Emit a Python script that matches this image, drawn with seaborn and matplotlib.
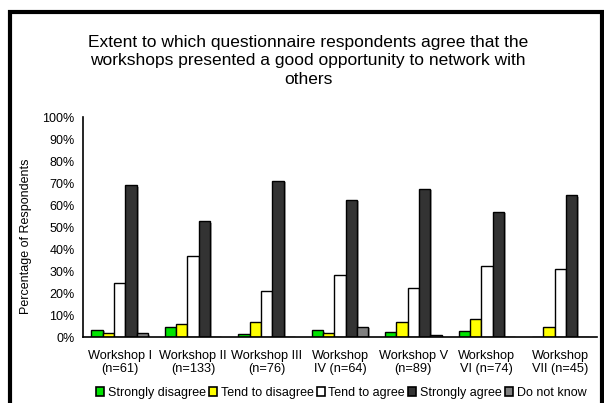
import pandas as pd
import numpy as np
import matplotlib
matplotlib.use("Agg")
import matplotlib.pyplot as plt
import seaborn as sns
from matplotlib.patches import Rectangle, Patch
import matplotlib.patheffects as pe

# Chart data
workshops = ["Workshop I\n(n=61)", "Workshop II\n(n=133)", "Workshop III\n(n=76)",
             "Workshop\nIV (n=64)", "Workshop V\n(n=89)", "Workshop\nVI (n=74)",
             "Workshop\nVII (n=45)"]
responses = ["Strongly disagree", "Tend to disagree", "Tend to agree",
             "Strongly agree", "Do not know"]
strongly_disagree = [3.3, 4.5, 1.3, 3.1, 2.2, 2.7, 0.0]
tend_to_disagree = [1.6, 6.0, 6.6, 1.6, 6.7, 8.1, 4.4]
tend_to_agree = [24.6, 36.8, 21.1, 28.1, 22.5, 32.4, 31.1]
strongly_agree = [68.9, 52.6, 71.1, 62.5, 67.4, 56.8, 64.4]
do_not_know = [1.6, 0.0, 0.0, 4.7, 1.1, 0.0, 0.0]
colors = ["#00E400", "#FFFF00", "#FFFFFF", "#333333", "#808080"]

series = [strongly_disagree, tend_to_disagree, tend_to_agree, strongly_agree, do_not_know]
rows = []
for resp, vals in zip(responses, series):
    for w, v in zip(workshops, vals):
        rows.append({"Workshop": w, "Response": resp, "Percent": v})
df = pd.DataFrame(rows)

sns.set_style("white")
plt.rcParams['font.family'] = ['Liberation Sans', 'DejaVu Sans']
plt.rcParams.update({"text.color": "black", "axes.labelcolor": "black",
                     "xtick.color": "black", "ytick.color": "black"})

fig = plt.figure(figsize=(6.04, 4.03), dpi=100)
ax = fig.add_axes([83 / 604, 1 - 337 / 403, (597 - 83) / 604, 220 / 403])

sns.barplot(data=df, x="Workshop", y="Percent", hue="Response", hue_order=responses,
            order=workshops, palette=colors, width=0.77, edgecolor="black",
            linewidth=1.0, saturation=1, ax=ax, legend=False)

# light drop shadow like the original spreadsheet chart
for bar in ax.patches:
    if bar.get_height() > 0:
        bar.set_path_effects([pe.SimplePatchShadow(offset=(1.5, -1), shadow_rgbFace="#999999",
                                                   alpha=0.8), pe.Normal()])

ax.set_ylim(0, 100)
ax.set_xlim(-0.5, len(workshops) - 0.5)
ax.set_yticks(np.arange(0, 101, 10))
ax.set_yticklabels([f"{t}%" for t in range(0, 101, 10)], fontsize=9)
ax.set_xticks(range(len(workshops)))
ax.set_xticklabels(workshops, fontsize=9.2, linespacing=1.2)
ax.set_xticks(np.arange(-0.5, len(workshops), 1), minor=True)
ax.tick_params(axis="x", which="major", length=0, pad=9)
ax.tick_params(axis="x", which="minor", length=4, width=1, direction="out", color="black")
ax.tick_params(axis="y", length=4, width=1, direction="out", color="black", pad=2)
ax.set_xlabel("")
ax.set_ylabel("Percentage of Respondents", fontsize=9)
ax.yaxis.set_label_coords(-0.099, 0.46)
for s in ["top", "right"]:
    ax.spines[s].set_visible(False)
for s in ["left", "bottom"]:
    ax.spines[s].set_color("black")
    ax.spines[s].set_linewidth(1.2)

fig.text(0.51, 1 - 61 / 403,
         "Extent to which questionnaire respondents agree that the\n"
         "workshops presented a good opportunity to network with\nothers",
         ha="center", va="center", fontsize=12.5, linespacing=1.3)

handles = [Patch(facecolor=c, edgecolor="black", linewidth=1.2) for c in colors]
fig.legend(handles, responses, loc="center", bbox_to_anchor=(341 / 604, 1 - 393 / 403),
           ncol=5, frameon=False, fontsize=9, handlelength=0.65, handleheight=0.65,
           handletextpad=0.3, columnspacing=0.25, borderpad=0)

# outer chart border
fig.patches.append(Rectangle((10 / 604, -0.05), (602 - 10) / 604, 1.05 - 12 / 403,
                             transform=fig.transFigure, fill=False,
                             edgecolor="black", linewidth=3))

fig.savefig("out.png", dpi=100)
